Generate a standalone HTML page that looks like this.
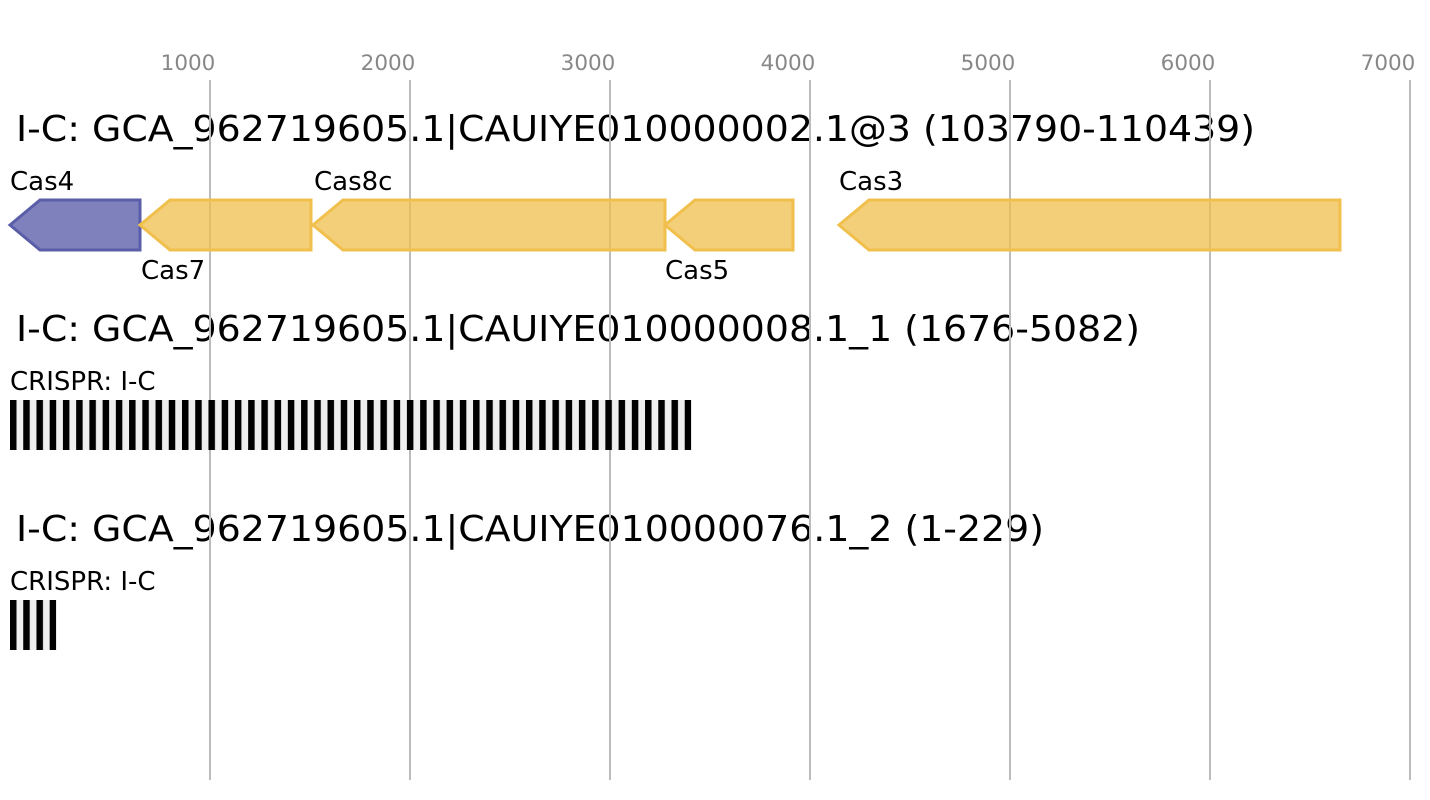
<!DOCTYPE html>
<html><head><style>html,body{margin:0;padding:0;background:#fff;}svg{display:block}</style></head>
<body>
<svg width="1430" height="800" xmlns="http://www.w3.org/2000/svg" font-family="'DejaVu Sans','Liberation Sans',sans-serif">
<defs>
<pattern id="cr" x="10" y="0" width="13.23" height="50" patternUnits="userSpaceOnUse">
<rect x="0" y="0" width="13.23" height="50" fill="#efefef"/>
<rect x="0" y="0" width="6.5" height="50" fill="#000"/>
</pattern>
</defs>
<g fill="#888" font-size="21.5" text-anchor="middle">
<text x="188" y="70">1000</text><text x="388" y="70">2000</text><text x="588" y="70">3000</text><text x="788" y="70">4000</text><text x="988" y="70">5000</text><text x="1188" y="70">6000</text><text x="1388" y="70">7000</text>
</g>
<g font-size="36" fill="#000">
<text x="16" y="141" textLength="1239" lengthAdjust="spacingAndGlyphs">I-C: GCA_962719605.1|CAUIYE010000002.1@3 (103790-110439)</text>
<text x="16" y="341" textLength="1124" lengthAdjust="spacingAndGlyphs">I-C: GCA_962719605.1|CAUIYE010000008.1_1 (1676-5082)</text>
<text x="16" y="541" textLength="1028" lengthAdjust="spacingAndGlyphs">I-C: GCA_962719605.1|CAUIYE010000076.1_2 (1-229)</text>
</g>
<g stroke="#bbb" stroke-width="2">
<line x1="210" y1="80" x2="210" y2="780"/><line x1="410" y1="80" x2="410" y2="780"/><line x1="610" y1="80" x2="610" y2="780"/><line x1="810" y1="80" x2="810" y2="780"/><line x1="1010" y1="80" x2="1010" y2="780"/><line x1="1210" y1="80" x2="1210" y2="780"/><line x1="1410" y1="80" x2="1410" y2="780"/>
</g>
<g font-size="26" fill="#000">
<text x="10" y="190">Cas4</text>
<text x="141" y="279">Cas7</text>
<text x="314" y="190">Cas8c</text>
<text x="665" y="279">Cas5</text>
<text x="839" y="190">Cas3</text>
<text x="10" y="390">CRISPR: I-C</text>
<text x="10" y="590">CRISPR: I-C</text>
</g>
<g stroke-width="3">
<polygon points="10,225 40,200 140,200 140,250 40,250" fill="#5a5ea8" fill-opacity="0.78" stroke="#5a5ea8"/>
<g fill="#f0bf4c" fill-opacity="0.75" stroke="#f0bf4c">
<polygon points="140,225 170,200 311,200 311,250 170,250"/>
<polygon points="313,225 343,200 665,200 665,250 343,250"/>
<polygon points="665,225 695,200 793,200 793,250 695,250"/>
<polygon points="839,225 869,200 1340,200 1340,250 869,250"/>
</g>
</g>
<rect x="10" y="400" width="681.2" height="50" fill="url(#cr)"/>
<rect x="10" y="600" width="46.2" height="50" fill="url(#cr)"/>
</svg>
</body></html>
